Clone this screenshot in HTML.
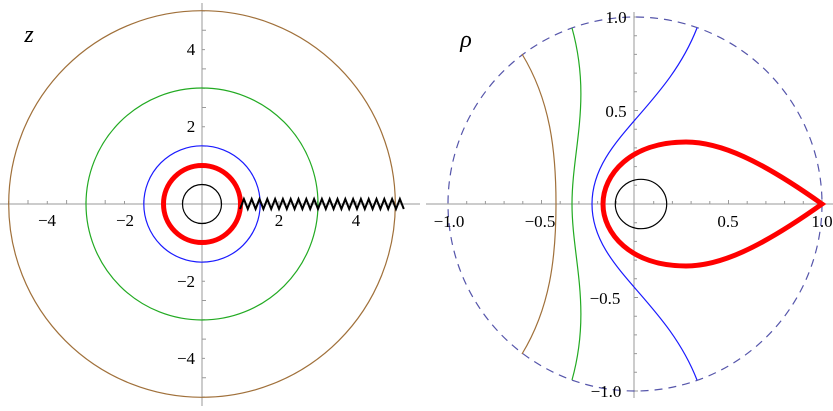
<!DOCTYPE html>
<html><head><style>html,body{margin:0;padding:0;background:#fff;}svg{display:block}
text{font-family:"Liberation Serif","DejaVu Serif",serif;font-size:17px;}
.it{font-style:italic;font-size:24px;}</style></head>
<body>
<svg width="833" height="411" viewBox="0 0 833 411" xmlns="http://www.w3.org/2000/svg">
<!-- LEFT -->
<g stroke="#999" stroke-width="1" fill="none">
<line x1="0" y1="204" x2="420" y2="204"/>
<line x1="202" y1="3" x2="202" y2="406"/>
<path d="M8.7,204v-3M28,204v-4M47.3,204v-3M66.6,204v-4M85.9,204v-3M105.2,204v-4M124.5,204v-3M143.8,204v-4M163.1,204v-3M182.4,204v-4M221,204v-4M240.3,204v-3M259.6,204v-4M278.9,204v-3M298.2,204v-4M317.5,204v-3M336.8,204v-4M356.1,204v-3M375.4,204v-4M394.7,204v-3"/>
<path d="M202,11h3M202,30.3h4M202,49.6h3M202,68.9h4M202,88.2h3M202,107.5h4M202,126.8h3M202,146.1h4M202,165.4h3M202,184.7h4M202,223.3h4M202,242.6h3M202,261.9h4M202,281.2h3M202,300.5h4M202,319.8h3M202,339.1h4M202,358.4h3M202,377.7h4M202,397h3"/>
</g>
<circle cx="202" cy="204" r="193.3" fill="none" stroke="#a0703a" stroke-width="1.2"/>
<circle cx="202" cy="204" r="116" fill="none" stroke="#22aa22" stroke-width="1.2"/>
<circle cx="202" cy="204" r="58.2" fill="none" stroke="#1a1aff" stroke-width="1.2"/>
<circle cx="202" cy="204" r="38.5" fill="none" stroke="#ff0000" stroke-width="5"/>
<circle cx="202" cy="204" r="19.5" fill="none" stroke="#000" stroke-width="1.2"/>
<path d="M240,209 l3.9,-10 l3.9,10 l3.9,-10 l3.9,10 l3.9,-10 l3.9,10 l3.9,-10 l3.9,10 l3.9,-10 l3.9,10 l3.9,-10 l3.9,10 l3.9,-10 l3.9,10 l3.9,-10 l3.9,10 l3.9,-10 l3.9,10 l3.9,-10 l3.9,10 l3.9,-10 l3.9,10 l3.9,-10 l3.9,10 l3.9,-10 l3.9,10 l3.9,-10 l3.9,10 l3.9,-10 l3.9,10 l3.9,-10 l3.9,10 l3.9,-10 l3.9,10 l3.9,-10 l3.9,10 l3.9,-10 l3.9,10 l3.9,-10 l3.9,10 l3.9,-10 l3.9,10" fill="none" stroke="#000" stroke-width="2"/>
<g fill="#000" text-anchor="middle">
<text x="191" y="55">4</text><text x="191" y="132">2</text>
<text x="186" y="287">−2</text><text x="186" y="364">−4</text>
<text x="47" y="226">−4</text><text x="125" y="226">−2</text>
<text x="279" y="226">2</text><text x="356" y="226">4</text>
<text x="29" y="42" class="it">z</text>
</g>
<!-- RIGHT -->
<g stroke="#999" stroke-width="1" fill="none">
<line x1="426" y1="204" x2="833" y2="204"/>
<line x1="634" y1="12" x2="634" y2="398"/>
<path d="M448,204v-3M466.7,204v-3M485.4,204v-3M504.1,204v-3M522.8,204v-3M541.5,204v-4M560.2,204v-3M578.9,204v-3M597.6,204v-3M616.3,204v-3M653.7,204v-3M672.4,204v-3M691.1,204v-3M709.8,204v-3M728.5,204v-4M747.2,204v-3M765.9,204v-3M784.6,204v-3M803.3,204v-3M822,204v-4"/>
<path d="M634,17h4M634,35.7h3M634,54.4h3M634,73.1h3M634,91.8h3M634,110.5h4M634,129.2h3M634,147.9h3M634,166.6h3M634,185.3h3M634,222.7h3M634,241.4h3M634,260.1h3M634,278.8h3M634,297.5h4M634,316.2h3M634,334.9h3M634,353.6h3M634,372.3h3M634,391h4"/>
</g>
<ellipse cx="635" cy="204" rx="187" ry="187" fill="none" stroke="#5555aa" stroke-width="1.2" stroke-dasharray="8,6"/>
<path d="M522,54 C550,100 556,150 556,204 C556,258 550,308 522,354" fill="none" stroke="#a0703a" stroke-width="1.2"/>
<path d="M572,28 C592,100 572,150 572,204 C572,258 592,308 572,380" fill="none" stroke="#22aa22" stroke-width="1.2"/>
<path d="M697,28 C665,110 592,140 592,204 C592,268 665,298 697,380" fill="none" stroke="#1a1aff" stroke-width="1.2"/>
<path d="M822,204 C760,160 720,142 686,142 C630,142 603,175 603,204 C603,233 630,266 686,266 C720,266 760,248 822,204 Z" fill="none" stroke="#ff0000" stroke-width="5" stroke-linejoin="miter"/>
<ellipse cx="641" cy="204" rx="25.7" ry="24.7" fill="none" stroke="#000" stroke-width="1.2"/>
<g fill="#000" text-anchor="middle">
<text x="616" y="23">1.0</text><text x="616" y="117">0.5</text>
<text x="605" y="304">−0.5</text><text x="606" y="397">−1.0</text>
<text x="449" y="227">−1.0</text><text x="540" y="227">−0.5</text>
<text x="728" y="227">0.5</text><text x="822" y="227">1.0</text>
<text x="466" y="47" class="it">ρ</text>
</g>
</svg>
</body></html>
